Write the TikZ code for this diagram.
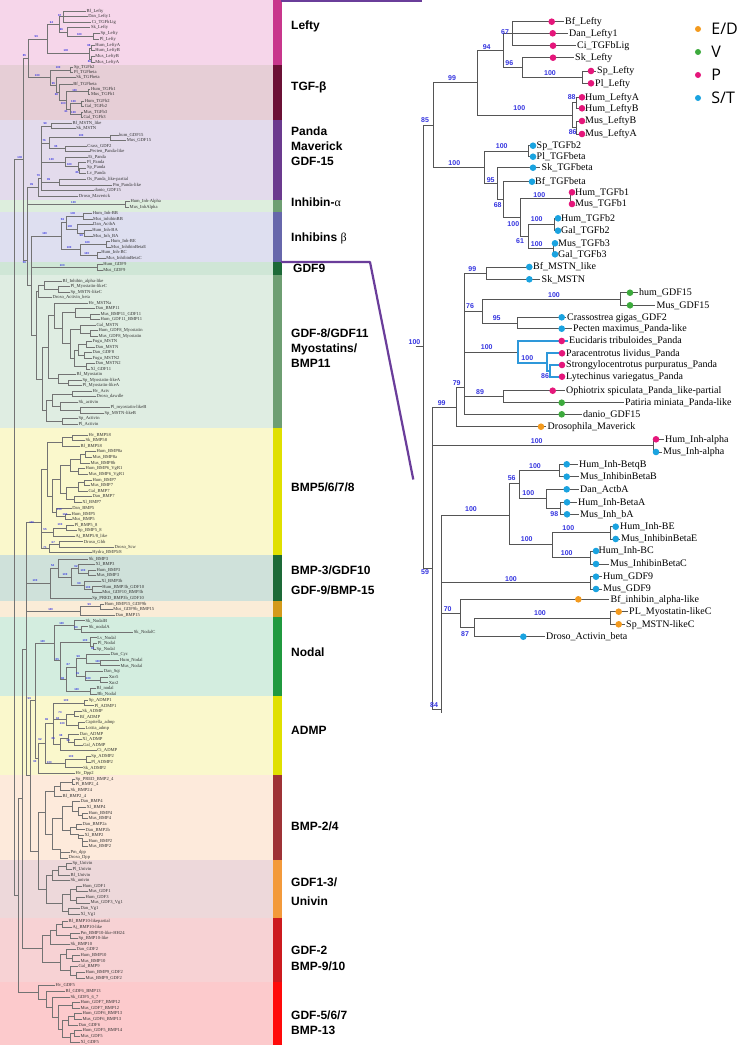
\documentclass[tikz,border=0pt]{standalone}
\usepackage{fontspec}
\setmainfont{Liberation Serif}
\setsansfont{Liberation Sans}
\newfontfamily\legendfont{Open Sans}
\usetikzlibrary{positioning}
\pgfdeclarelayer{front}
\pgfsetlayers{main,front}

\definecolor{cED}{HTML}{F39A1E}
\definecolor{cV}{HTML}{3DAA3D}
\definecolor{cP}{HTML}{E5177B}
\definecolor{cST}{HTML}{1AA3E0}
\definecolor{boot}{HTML}{3535E0}
\definecolor{branch}{HTML}{555555}
\definecolor{panda}{HTML}{2E98DA}
\definecolor{frame}{HTML}{6A3D9A}
% group bands
\definecolor{bgLefty}{HTML}{F6D6EA}\definecolor{stLefty}{HTML}{C8368C}
\definecolor{bgTgf}{HTML}{E6CED6}\definecolor{stTgf}{HTML}{6B1035}
\definecolor{bgPanda}{HTML}{E3DBEC}\definecolor{stPanda}{HTML}{6B3A8E}
\definecolor{bgInhA}{HTML}{DDEEDD}\definecolor{stInhA}{HTML}{6E9E72}
\definecolor{bgInhB}{HTML}{DEDFF0}\definecolor{stInhB}{HTML}{6767AB}
\definecolor{bgGnine}{HTML}{CFE6D6}\definecolor{stGnine}{HTML}{1D6A38}
\definecolor{bgMyo}{HTML}{DFEDE2}\definecolor{stMyo}{HTML}{6E9E72}
\definecolor{bgBmpA}{HTML}{FAF8CC}\definecolor{stBmpA}{HTML}{E0E000}
\definecolor{bgBmpB}{HTML}{CFE1DA}\definecolor{stBmpB}{HTML}{1D6A38}
\definecolor{bgGnineB}{HTML}{FAECD7}\definecolor{stGnineB}{HTML}{D39A1B}
\definecolor{bgNodal}{HTML}{D3EDDF}\definecolor{stNodal}{HTML}{20993F}
\definecolor{bgAdmp}{HTML}{FAF8CC}\definecolor{stAdmp}{HTML}{E0E000}
\definecolor{bgBmpC}{HTML}{FDEADB}\definecolor{stBmpC}{HTML}{9E3236}
\definecolor{bgUniv}{HTML}{EDD8DA}\definecolor{stUniv}{HTML}{F39A3B}
\definecolor{bgGdfB}{HTML}{F7D2D4}\definecolor{stGdfB}{HTML}{CC1A1F}
\definecolor{bgGdfC}{HTML}{FCCACC}\definecolor{stGdfC}{HTML}{FF0A0A}

\begin{document}
\begin{tikzpicture}[x=1pt,y=-1pt]
\tikzset{
  grp/.style={anchor=west,inner sep=0pt,align=left,font=\sffamily\bfseries\fontsize{12}{15}\selectfont},
  rleaf/.style={anchor=west,inner sep=1.5pt,text height=6.8pt,text depth=1.2pt,font=\fontsize{10}{10}\selectfont},
  lleaf/.style={anchor=west,inner sep=0.4pt,text=black!80,font=\fontsize{4.6}{4.6}\selectfont},
  rbranch/.style={draw=branch,line width=0.9pt},
  lbranch/.style={draw=black!55,line width=0.45pt},
  pandabranch/.style={draw=panda,line width=2pt},
  rboot/.style={inner sep=0pt,text=boot,font=\sffamily\bfseries\fontsize{7}{7}\selectfont},
  lboot/.style={inner sep=0pt,text=boot,font=\sffamily\bfseries\fontsize{2.8}{2.8}\selectfont},
  leafdot/.style={circle,inner sep=0pt,minimum size=6.6pt},
  keydot/.style={circle,inner sep=0pt,minimum size=6pt},
  keytext/.style={inner sep=0pt,font=\legendfont\fontsize{16}{16}\selectfont},
  zoomline/.style={draw=frame,line width=2.2pt},
}
\useasboundingbox (0,0) rectangle (740,1049);
\fill[white] (0,0) rectangle (740,1049);

% coloured bands of the overview tree
\foreach \ya/\yb/\bg/\st in {0/65/bgLefty/stLefty, 65/120/bgTgf/stTgf,
  120/200/bgPanda/stPanda, 200/212/bgInhA/stInhA, 212/262/bgInhB/stInhB,
  262/275/bgGnine/stGnine, 275/428/bgMyo/stMyo, 428/555/bgBmpA/stBmpA,
  555/601/bgBmpB/stBmpB, 601/617/bgGnineB/stGnineB, 617/696/bgNodal/stNodal,
  696/775/bgAdmp/stAdmp, 775/860/bgBmpC/stBmpC, 860/918/bgUniv/stUniv,
  918/982/bgGdfB/stGdfB, 982/1045/bgGdfC/stGdfC}
{
  \fill[\bg] (0,\ya) rectangle (273,\yb);
  \fill[\st] (273,\ya) rectangle (281.5,\yb);
}

% group names
\node[grp] (gLefty) at (291,26) {Lefty};
\node[grp] (gTgf) at (291,87.3) {TGF-β};
\node[grp] (gPanda) at (291,146.7) {Panda\\Maverick\\GDF-15};
\node[grp] (gInhA) at (291,202.7) {Inhibin-{\rmfamily\mdseries α}};
\node[grp] (gInhB) at (291,238.3) {Inhibins {\rmfamily\mdseries β}};
\node[grp] (gGnine) at (293,268.3) {GDF9};
\node[grp] (gMyo) at (291,348) {GDF-8/GDF11\\Myostatins/\\BMP11};
\node[grp] (gBmpA) at (291,487.3) {BMP5/6/7/8};
\node[grp] (gBmpB) at (291,570.7) {BMP-3/GDF10};
\node[grp] (gGnineB) at (291,590.7) {GDF-9/BMP-15};
\node[grp] (gNodal) at (291,652.7) {Nodal};
\node[grp] (gAdmp) at (291,730) {ADMP};
\node[grp] (gBmpC) at (291,826) {BMP-2/4};
\node[grp,font=\sffamily\bfseries\fontsize{12}{19}\selectfont] (gUniv) at (291,891.7) {GDF1-3/\\Univin};
\node[grp,font=\sffamily\bfseries\fontsize{12}{16.5}\selectfont] (gGdfB) at (291,958.3) {GDF-2\\BMP-9/10};
\node[grp] (gGdfC) at (291,1022.5) {GDF-5/6/7\\BMP-13};

% zoom frame
\coordinate (zA) at (281,1.2);
\coordinate (zB) at (422,1.2);
\coordinate (zC) at (281,262);
\coordinate (zD) at (370,262);
\coordinate (zE) at (413.3,479.5);
\draw[zoomline] (zA) -- (zB);
\draw[zoomline,line join=round] (zC) -- (zD) -- (zE);

% tree data
\def\innerlist{A85/433.3/125, L99/477/82.7, L94/503.3/50.5, L67/512.7/33.3,
  L96/522.7/67.2, LSP/582.3/77.2, LHM/572.7/115, L88/576.5/102.8, L86/576.5/127.5,
  T100/484/167.3, TSP/528.3/151.2, T95/497.5/183.5, T68/503.3/199.3,
  T100b/520.7/217, TB1/570/198.2, T61/528.3/236, TB2/554.3/224.5, TB3/553.3/248.8,
  R0/423.3/346.7, N59/432.3/568.3, P99/456.7/407.5, P79/464/387.7, M99/486.7/273.1,
  P76/482.3/311, G15/620/299, P95/517.7/323, PP/517.7/352.5, PP2/546.7/362.7,
  PP3/550/370.8, P89/503.3/396.7, IA/653.3/445.7, IB/509.3/515, I56/519.3/483.7,
  IBB/559.3/470.5, I100c/546/498.8, I98/560.7/508.3, I100d/552.7/544,
  IBE/610/532.8, IBC/590.7/557.5, G9/590.7/582.8}
\def\leaflist{BfLefty/21.7/551.7/565/cP/Bf\_Lefty/Bf\_Lefty,
  DanLefty/33.3/552.7/569/cP/Dan\_Lefty1/Dan\_Lefty1,
  CiLig/45.7/553/577/cP/Ci\_TGFbLig/Ci\_TGFbLig,
  SkLefty/57.7/553/575/cP/Sk\_Lefty/Sk\_Lefty,
  SpLefty/71/591/597/cP/Sp\_Lefty/Sp\_Lefty,
  PlLefty/83.3/591/595/cP/Pl\_Lefty/Pl\_Lefty,
  HumLA/97.3/582/585/cP/Hum\_LeftyA/Hum\_LeftyA,
  HumLB/108.3/582/585/cP/Hum\_LeftyB/Hum\_LeftyB,
  MusLB/121/582/585/cP/Mus\_LeftyB/Mus\_LeftyB,
  MusLA/134/582/585/cP/Mus\_LeftyA/Mus\_LeftyA,
  SpTb/145.7/533/536.5/cST/Sp\_TGFb2/Sp\_TGFb2,
  PlTb/156.7/533/536.5/cST/Pl\_TGFbeta/Pl\_TGFbeta,
  SkTb/167.7/533/541.5/cST/Sk\_TGFbeta/Sk\_TGFbeta,
  BfTb/181.7/532/535/cST/Bf\_TGFbeta/Bf\_TGFbeta,
  HumTbA/192.3/572/575/cP/Hum\_TGFb1/Hum\_TGFb1,
  MusTbA/204/572/575/cP/Mus\_TGFb1/Mus\_TGFb1,
  HumTbB/218.3/558/561/cST/Hum\_TGFb2/Hum\_TGFb2,
  GalTbB/230.7/558/561/cST/Gal\_TGFb2/Gal\_TGFb2,
  MusTbC/243.3/555/558/cST/Mus\_TGFb3/Mus\_TGFb3,
  GalTbC/254.3/555/558/cST/Gal\_TGFb3/Gal\_TGFb3,
  BfMstn/267/529.3/533/cST/Bf\_MSTN\_like/Bf\_MSTN\_like,
  SkMstn/279.3/529.3/541.5/cST/Sk\_MSTN/Sk\_MSTN,
  HumGDFf/292.7/630/639/cV/hum\_GDF15/hum\_GDF15,
  MusGDFf/305.3/630/656.5/cV/Mus\_GDF15/Mus\_GDF15,
  Crass/317.3/561.7/567/cST/Crassostrea gigas\_GDF2/Crass\_GDF2,
  Pecten/328.7/561.7/573/cST/Pecten maximus\_Panda-like/Pecten\_Panda-like,
  Eucid/341/561.7/569/cP/Eucidaris tribuloides\_Panda/Et\_Panda,
  Paracen/353.3/562/566/cP/Paracentrotus lividus\_Panda/Pl\_Panda,
  Strongy/365/562/566/cP/Strongylocentrotus purpuratus\_Panda/Sp\_Panda,
  Lytech/376.7/562/566/cP/Lytechinus variegatus\_Panda/Lv\_Panda,
  Ophio/390.7/552.7/566/cP/Ophiotrix spiculata\_Panda\_like-partial/Os\_Panda\_like-partial,
  Patiria/402.7/561.7/625/cV/Patiria miniata\_Panda-like/Pm\_Panda-like,
  Danio/414.3/561.7/583/cV/danio\_GDF15/danio\_GDF15,
  DrosMav/426.7/541/547.5/cED/Drosophila\_Maverick/Droso\_Maverick,
  HumIA/439.3/656/665/cP/Hum\_Inh-alpha/Hum\_Inh-Alpha,
  MusIA/452/656/663/cST/Mus\_Inh-alpha/Mus\_InhAlpha,
  HumIBB/464.3/566.7/579/cST/Hum\_Inh-BetqB/Hum\_Inh-BB,
  MusIBB/476.7/566.7/580/cST/Mus\_InhibinBetaB/Mus\_inhibinBB,
  DanAct/489.3/566.7/580/cST/Dan\_ActbA/Dan\_ActbA,
  HumIBA/502.3/567/578/cST/Hum\_Inh-BetaA/Hum\_Inh-BA,
  MusIBA/514.3/567/580/cST/Mus\_Inh\_bA/Mus\_Inh\_BA,
  HumIBE/526.7/615.7/620/cST/Hum\_Inh-BE/Hum\_Inh-BE,
  MusIBE/539/615.7/621/cST/Mus\_InhibinBetaE/Mus\_InhibinBetaE,
  HumIBC/551/596/598.5/cST/Hum\_Inh-BC/Hum\_Inh-BC,
  MusIBC/564/596/610/cST/Mus\_InhibinBetaC/Mus\_InhibinBetaC,
  HumGnine/576.7/596/603/cST/Hum\_GDF9/Hum\_GDF9,
  MusGnine/589/596/603/cST/Mus\_GDF9/Mus\_GDF9}
\def\edgelist{R0/A85, R0/N59, A85/L99, A85/T100, L99/L94, L99/LHM, L94/L67,
  L94/L96, L67/BfLefty, L67/DanLefty, L67/CiLig, L96/SkLefty, L96/LSP,
  LSP/SpLefty, LSP/PlLefty, LHM/L88, LHM/L86, L88/HumLA, L88/HumLB, L86/MusLB,
  L86/MusLA, T100/TSP, T100/T95, TSP/SpTb, TSP/PlTb, T95/SkTb, T95/T68,
  T68/BfTb, T68/T100b, T100b/TB1, T100b/T61, TB1/HumTbA, TB1/MusTbA, T61/TB2,
  T61/TB3, TB2/HumTbB, TB2/GalTbB, TB3/MusTbC, TB3/GalTbC, N59/P99, N59/IA,
  P99/P79, P99/DrosMav, P79/M99, P79/P76, P79/PP, P79/P89, P79/Danio,
  M99/BfMstn, M99/SkMstn, P76/G15, P76/P95, G15/HumGDFf, G15/MusGDFf,
  P95/Crass, P95/Pecten, P89/Ophio, P89/Patiria, IA/HumIA, IA/MusIA, IB/I56,
  IB/I100d, I56/IBB, I56/I100c, IBB/HumIBB, IBB/MusIBB, I100c/DanAct,
  I100c/I98, I98/HumIBA, I98/MusIBA, I100d/IBE, I100d/IBC, IBE/HumIBE,
  IBE/MusIBE, IBC/HumIBC, IBC/MusIBC, G9/HumGnine, G9/MusGnine}
\def\pandaedges{PP/Eucid, PP/PP2, PP2/Paracen, PP2/PP3, PP3/Strongy, PP3/Lytech}
\def\bootlist{452/77.7/99, 486.7/47/94, 505/31.7/67, 509.3/62.7/96,
  550/72.7/100, 519.3/108.3/100, 571.7/97.3/88, 572.7/132.3/86, 425/120/85,
  454.3/162.7/100, 501.7/145.7/100, 490.7/180/95, 497.7/205/68, 539.3/195/100,
  513.3/224.3/100, 536.7/219.3/100, 520/241/61, 536.7/244/100, 414.5/341.7/100,
  472.3/269/99, 470/305.7/76, 554/295/100, 496.7/317.7/95, 486.7/347.3/100,
  527.3/357.7/100, 545/376/86, 456.7/382.7/79, 480/391.7/89, 441.7/402.7/99,
  536.7/440.7/100, 535/465.7/100, 511.7/478.3/56, 528.3/493.3/100,
  554.3/514.3/98, 471/509.3/100, 568.3/528.3/100, 526.7/539.3/100,
  566.7/553.3/100, 425/571.7/59, 511/579.3/100}

% detailed tree (right)
\foreach \n/\x/\y in \innerlist {\coordinate (R\n) at (\x,\y);}
\foreach \n/\y/\d/\l/\c/\rt/\lt in \leaflist {
  \node[rleaf] (R\n) at (\l-1.5,\y) {\rt};
  \begin{pgfonlayer}{front}
    \node[leafdot,fill=\c] (D\n) at (\d,\y) {};
  \end{pgfonlayer}
}
\foreach \p/\c in \edgelist {\draw[rbranch] (R\p) |- (R\c);}
\foreach \p/\c in \pandaedges {\draw[pandabranch] (R\p) |- (R\c);}
\foreach \x/\y/\t [count=\i] in \bootlist {\node[rboot] (rb\i) at (\x,\y) {\t};}

% lower part, only in the detailed tree
\coordinate (RR0s) at (415.7,346.7);
\coordinate (RB84) at (441.7,709.3);
\coordinate (RB84s) at (441.7,713.3);
\coordinate (RN70) at (460,613.8);
\coordinate (RN87) at (474,627.8);
\coordinate (RMLC) at (610,618);
\foreach \n/\y/\d/\l/\c/\rt in {BfInhA/599.3/578.3/610.5/cED/Bf\_inhibin\_alpha-like,
  PlMyo/611.7/618.7/629/cED/PL\_Myostatin-likeC,
  SpMstnC/624.3/618.7/626/cED/Sp\_MSTN-likeC,
  DrosAct/636.7/523.3/546/cST/Droso\_Activin\_beta} {
  \node[rleaf] (R\n) at (\l-1.5,\y) {\rt};
  \begin{pgfonlayer}{front}
    \node[leafdot,fill=\c] (D\n) at (\d,\y) {};
  \end{pgfonlayer}
}
\draw[rbranch] (RR0s) -- (RR0);
\draw[rbranch] (RB84) -- (RB84s);
\foreach \p/\c in {N59/B84, B84/IB, B84/G9, B84/N70, N70/BfInhA, N70/N87,
  N87/MLC, N87/DrosAct, MLC/PlMyo, MLC/SpMstnC} {\draw[rbranch] (R\p) |- (R\c);}
\foreach \x/\y/\t [count=\i from 41] in {447.7/609.3/70, 540/613.3/100,
  465/634.3/87, 434/705/84} {\node[rboot] (rb\i) at (\x,\y) {\t};}

% overview tree (left), top clades as in the detailed tree
\begin{scope}[shift={(-162.6,1.09)},xscale=0.44,yscale=0.4566]
\foreach \n/\x/\y in \innerlist {\coordinate (L\n) at (\x,\y);}
\foreach \n/\y/\d/\l/\c/\rt/\lt in \leaflist {\node[lleaf] (L\n) at (\l,\y) {\lt};}
\foreach \x/\y/\t [count=\i] in \bootlist {\node[lboot] (lb\i) at (\x,\y) {\t};}
\end{scope}
\foreach \p/\c in \edgelist {\draw[lbranch] (L\p) |- (L\c);}
\foreach \p/\c in \pandaedges {\draw[lbranch] (L\p) |- (L\c);}

% overview tree, lower clades
\foreach \n/\x/\y/\t in {m1/62/281/Bf\_Inhibin\_alpha-like, m2/70/286.5/Pl\_Myostatin-likeC,
  m3/70/292/Sp\_MSTN-likeC, m4/52/297.5/Droso\_Activin\_beta, m5/88/303/Hv\_MSTNa,
  m6/95/308.5/Dan\_BMP11, m7/100/314/Mus\_BMP11\_GDF11, m8/100/319.5/Hum\_GDF11\_BMP11,
  m9/96/325/Gal\_MSTN, m10/98/330.5/Hum\_GDF8\_Myostatin, m11/98/336/Mus\_GDF8\_Myostatin,
  m12/92/341.5/Fugu\_MSTN, m13/95/347/Dan\_MSTN, m14/92/352.5/Dan\_GDF8,
  m15/92/358/Fugu\_MSTN2, m16/95/363.5/Dan\_MSTN2, m17/90/369/Xl\_GDF11,
  m18/76/374.5/Bf\_Myostatin, m19/82/380/Sp\_Myostatin-likeA, m20/82/385.5/Pl\_Myostatin-likeA,
  m21/92/391/Hv\_Actv, m22/96/396.5/Droso\_dawdle, m23/78/402/Sk\_activin,
  m24/110/407.5/Pl\_myostatin-likeB, m25/104/413/Sp\_MSTN-likeB, m26/78/418.5/Sp\_Activin,
  m27/78/424/Pl\_Activin,
  b1/88/434.8/Hv\_BMP58, b2/85/440.4/Sk\_BMP58, b3/80/446.1/Bf\_BMP58,
  b4/96/451.7/Hum\_BMP8a, b5/92/457.3/Mus\_BMP8a, b6/90/463/Mus\_BMP8b,
  b7/85/468.6/Hum\_BMP6\_VgR1, b8/88/474.2/Mus\_BMP6\_VgR1, b9/92/479.8/Hum\_BMP7,
  b10/90/485.5/Mus\_BMP7, b11/88/491.1/Gal\_BMP7, b12/92/496.7/Dan\_BMP7,
  b13/81.7/502.3/Xl\_BMP7, b14/71.7/508.3/Dan\_BMP5, b15/71/514/Hum\_BMP5,
  b16/71.7/519.3/Mus\_BMP5, b17/74/525/Pl\_BMP5\_8, b18/77.3/530.7/Sp\_BMP5\_8,
  b19/75/536/{Aj\_BMP5/8\_like}, b20/83.3/541.7/Droso\_Gbb, b21/114/547.7/Droso\_Scw,
  b22/91.7/552.7/{Hydra\_BMP5/8},
  k1/88.3/559/Sk\_BMP3, k2/95/564.3/Xl\_BMP3, k3/96/570/Hum\_BMP3, k4/96/575.7/Mus\_BMP3,
  k5/100.7/581/Xl\_BMP3b, k6/101.7/586.7/Hum\_BMP3b\_GDF10, k7/101.7/592.3/Mus\_GDF10\_BMP3b,
  k8/91.7/598.3/Sp\_PRED\_BMP3b\_GDF10,
  q1/104/604/Hum\_BMP15\_GDF9b, q2/112.7/609.3/Mus\_GDF9b\_BMP15, q3/115/615/Dan\_BMP15,
  n1/85/620.7/Sk\_NodalB, n2/88.3/626.7/Sk\_nodalA, n3/133.3/632.3/Sk\_NodalC,
  n4/96.7/637.7/Lv\_Nodal, n5/97.3/643.3/Pl\_Nodal, n6/96/649/Sp\_Nodal,
  n7/110/654.3/Dan\_Cyc, n8/119.3/660/Hum\_Nodal, n9/120/665.7/Mus\_Nodal,
  n10/103.3/671.7/Dan\_Sqt, n11/108.3/677.3/Xnr5, n12/108.3/682.7/Xnr2,
  n13/96/688.3/Bf\_nodal, n14/96.7/694/Bb\_Nodal,
  a1/88.3/700/Sp\_ADMP1, a2/94/705.7/Pl\_ADMP1, a3/81.7/711/Sk\_ADMP, a4/79.3/716.7/Bf\_ADMP,
  a5/85/722.7/Capitella\_admp, a6/85/728.3/Lottia\_admp, a7/79.3/734/Dan\_ADMP,
  a8/81.7/739.3/Xl\_ADMP, a9/82.7/745/Gal\_ADMP, a10/96.7/750.7/Ci\_ADMP,
  a11/90.7/756.7/Sp\_ADMP2, a12/90.7/762.3/Pl\_ADMP2, a13/82.7/767.7/Sk\_ADMP2,
  a14/75/773.3/Hv\_Dpp2,
  c1/75/779/Sp\_PRED\_BMP2\_4, c2/75/784.6/Pl\_BMP2\_4, c3/70/790.3/Sk\_BMP24,
  c4/62/795.9/Bf\_BMP2\_4, c5/80/801.5/Dan\_BMP4, c6/86/807.2/Xl\_BMP4,
  c7/88/812.8/Hum\_BMP4, c8/88/818.4/Mus\_BMP4, c9/82/824/Dan\_BMP2a,
  c10/85/829.7/Dan\_BMP2b, c11/84/835.3/Xl\_BMP2, c12/88/840.9/Hum\_BMP2,
  c13/88/846.6/Mus\_BMP2, c14/70/852.2/Pm\_dpp, c15/68/857.8/Droso\_Dpp,
  u1/72/863.5/Sp\_Univin, u2/72/869.1/Pl\_Univin, u3/70/874.8/Bf\_Univin,
  u4/70/880.4/Sk\_univin, u5/82/886/Hum\_GDF1, u6/88/891.7/Mus\_GDF1,
  u7/85/897.3/Hum\_GDF3, u8/90/902.9/Mus\_GDF3\_Vg1, u9/80/908.5/Dan\_Vg1,
  u10/80/914.2/Xl\_Vg1,
  v1/68/921.5/Bf\_BMP10-likepartial, v2/72/927.1/Aj\_BMP10-like, v3/80/932.8/Pm\_BMP10-like-HH24,
  v4/78/938.4/Sp\_BMP10-like, v5/70/944/Sk\_BMP10, v6/76/949.7/Dan\_GDF2,
  v7/80/955.3/Hum\_BMP10, v8/80/960.9/Mus\_BMP10, v9/78/966.5/Gal\_BMP9,
  v10/85/972.2/Hum\_BMP9\_GDF2, v11/85/977.8/Mus\_BMP9\_GDF2,
  w1/55/985.5/Hv\_GDF5, w2/65/991.1/Bf\_GDF6\_BMP13, w3/70/996.8/Sk\_GDF5\_6\_7,
  w4/80/1002.4/Hum\_GDF7\_BMP12, w5/80/1008/Mus\_GDF7\_BMP12, w6/82/1013.7/Hum\_GDF6\_BMP13,
  w7/82/1019.3/Mus\_GDF6\_BMP13, w8/78/1024.9/Dan\_GDF6, w9/82/1030.5/Hum\_GDF5\_BMP14,
  w10/80/1036.2/Mus\_GDF5, w11/80/1041.8/Xl\_GDF5}
  {\node[lleaf] (\n) at (\x,\y) {\t};}
\foreach \n/\x/\y in {mB/58/289.25, mA/44/285.1, mC/38/291.3, mO2/90/316.75,
  mO/75/312.6, mP2/90/333.25, mP1/80/329.1, mP4/86/344.25, mP5/84/355.25,
  mP3/78/349.75, mP8/86/366.25, mP7/74/358, mP/70/343.55, mN/62/328.1,
  mM/54/315.55, mQ2/68/382.75, mQ/58/378.6, mM2/48/347.1, mR1/72/393.75,
  mR3/80/410.25, mR2/60/406.1, mR/52/399.9, mT/62/421.25, mS/46/410.6,
  mU/42/378.85, mV/36/335.1,
  bS1/72/437.6, bS2/62/441.85, bS3/85/454.5, bS4/80/458.75, bS5/78/471.4,
  bS6/70/465.1, bS7/84/482.65, bS8/78/486.9, bS9/74/499.5, bS10/66/493.2,
  bS11/60/479.15, bI/65/516.65, bJ/56/512.5, bS12/52/495.8, bS13/47/468.8,
  bF/66/527.85, bG/53.3/531.9, bD/59.3/544.7, bE/49/548.7, bR/41.7/522,
  kA/88/572.85, kB/78/568.6, kC/92/589.5, kD/84.3/585.25, kE/71.7/576.9,
  kF/58.3/568, kG/50/583.1, qA/100/606.65, qB/80/610.8,
  nB/81.7/629.5, nA/74/625.1, nD/93.3/646.15, nC/90/641.9, nF/100/662.85,
  nE/86/658.6, nH/100/680, nG/85/675.85, nI/76/667.2, nJ/90/691.15,
  nK/66.7/679.2, nL/60/660.55, nM/54.3/642.8,
  aA/84/702.85, aB/74/713.85, aC/78/725.5, aD/66/719.7, aE/74/742.15,
  aF/68/738.1, aG/60/744.4, aH/53.3/723.6, aI/86/759.5, aJ/65/763.6,
  aK/45/743.6, aL/38/758.5,
  cA0/72/781.8, cS2/60/786.05, cS3/54/790.95, cA1/82/815.6, cA2/78/811.4,
  cA3/72/806.45, cB4/76/826.85, cB1/82/838.1, cB2/78/834, cB3/70/830.4,
  cC/62/818.4, cE/60/849.4, cD/52/833.9, cF/45/812.4,
  uA/66/866.3, uB/58/870.55, uC/52/875.5, uD/76/888.85, uE/76/900.1,
  uF/70/894.5, uG/68/911.35, uH/62/902.9, uI/46/889.2,
  vA/62/924.3, vB/70/935.6, vC/56/929.95, vD/50/934.95, vE/72/958.1,
  vF/66/953.9, vG/76/975, vH/70/970.1, vI/60/962, vJ/42/948.5,
  wA/72/1005.2, wB/74/1016.5, wC/68/1020.7, wD/74/1033.35, wE/70/1037.6,
  wF/62/1029.15, wG/58/1017.2, wH/52/1007, wI/46/999, wJ/38/992.3,
  LB84/31.7/285.65, BB5/35/700.6, BB7/38/850.8, BB6/30/775.7, BB2/26/648.9,
  BB8/22/798.7, BB3/18.3/895.5, LRoot/14.5/526}
  {\coordinate (\n) at (\x,\y);}
\foreach \p/\c in {mB/m2, mB/m3, mA/m1, mA/mB, mC/mA, mC/m4, mO2/m7, mO2/m8,
  mO/m6, mO/mO2, mP2/m10, mP2/m11, mP1/m9, mP1/mP2, mP4/m12, mP4/m13,
  mP5/m14, mP5/m15, mP3/mP4, mP3/mP5, mP8/m16, mP8/m17, mP7/mP3, mP7/mP8,
  mP/mP1, mP/mP7, mN/mO, mN/mP, mM/m5, mM/mN, mQ2/m19, mQ2/m20, mQ/m18,
  mQ/mQ2, mM2/mM, mM2/mQ, mR1/m21, mR1/m22, mR3/m24, mR3/m25, mR2/m23,
  mR2/mR3, mR/mR1, mR/mR2, mT/m26, mT/m27, mS/mR, mS/mT, mU/mM2, mU/mS,
  mV/mC, mV/mU,
  bS1/b1, bS1/b2, bS2/bS1, bS2/b3, bS3/b4, bS3/b5, bS4/bS3, bS4/b6, bS5/b7,
  bS5/b8, bS6/bS4, bS6/bS5, bS7/b9, bS7/b10, bS8/bS7, bS8/b11, bS9/b12,
  bS9/b13, bS10/bS8, bS10/bS9, bS11/bS6, bS11/bS10, bI/b15, bI/b16, bJ/b14,
  bJ/bI, bS12/bS11, bS12/bJ, bS13/bS2, bS13/bS12, bF/b17, bF/b18, bG/bF,
  bG/b19, bD/b20, bD/b21, bE/bD, bE/b22, bR/bS13, bR/bG, bR/bE,
  kA/k3, kA/k4, kB/k2, kB/kA, kC/k6, kC/k7, kD/k5, kD/kC, kE/kB, kE/kD,
  kF/k1, kF/kE, kG/kF, kG/k8, qA/q1, qA/q2, qB/qA, qB/q3,
  nB/n2, nB/n3, nA/n1, nA/nB, nD/n5, nD/n6, nC/n4, nC/nD, nF/n8, nF/n9,
  nE/n7, nE/nF, nH/n11, nH/n12, nG/n10, nG/nH, nI/nE, nI/nG, nJ/n13,
  nJ/n14, nK/nI, nK/nJ, nL/nC, nL/nK, nM/nA, nM/nL,
  aA/a1, aA/a2, aB/a3, aB/a4, aC/a5, aC/a6, aD/aB, aD/aC, aE/a8, aE/a9,
  aF/a7, aF/aE, aG/aF, aG/a10, aH/aA, aH/aD, aH/aG, aI/a11, aI/a12, aJ/aI,
  aJ/a13, aK/aH, aK/aJ, aL/aK, aL/a14,
  cA0/c1, cA0/c2, cS2/cA0, cS2/c3, cS3/cS2, cS3/c4, cA1/c7, cA1/c8, cA2/c6,
  cA2/cA1, cA3/c5, cA3/cA2, cB4/c9, cB4/c10, cB1/c12, cB1/c13, cB2/c11,
  cB2/cB1, cB3/cB4, cB3/cB2, cC/cA3, cC/cB3, cE/c14, cE/c15, cD/cC, cD/cE,
  cF/cS3, cF/cD,
  uA/u1, uA/u2, uB/uA, uB/u3, uC/uB, uC/u4, uD/u5, uD/u6, uE/u7, uE/u8,
  uF/uD, uF/uE, uG/u9, uG/u10, uH/uF, uH/uG, uI/uC, uI/uH,
  vA/v1, vA/v2, vB/v3, vB/v4, vC/vA, vC/vB, vD/vC, vD/v5, vE/v7, vE/v8,
  vF/v6, vF/vE, vG/v10, vG/v11, vH/v9, vH/vG, vI/vF, vI/vH, vJ/vD, vJ/vI,
  wA/w4, wA/w5, wB/w6, wB/w7, wC/wB, wC/w8, wD/w9, wD/w10, wE/wD, wE/w11,
  wF/wC, wF/wE, wG/wA, wG/wF, wH/w3, wH/wG, wI/w2, wI/wH, wJ/w1, wJ/wI,
  LN59/LB84, LB84/LIB, LB84/LG9, LB84/mV, BB5/nM, BB5/aL, BB7/cF, BB7/uI,
  BB6/BB5, BB6/BB7, BB2/bR, BB2/kG, BB2/qB, BB2/BB6, BB8/BB2, BB8/vJ,
  BB3/BB8, BB3/wJ, LRoot/LR0, LRoot/BB3}
  {\draw[lbranch] (\p) |- (\c);}
\foreach \x/\y/\t [count=\i from 100] in {31.7/522.7/100, 45/547.7/71,
  53.3/542.7/67, 45/530/55, 60/525/100, 59.3/510/100, 65/514.3/100,
  35/581/100, 52.7/566/54, 76/566.7/92, 83/571/100, 79/584/99, 88/588/100,
  65/575/100, 50.7/609.3/100, 89.3/605/99, 61.7/623.3/100, 76/627.7/83,
  42.7/641.7/100, 85/640.7/100, 92.7/648.3/83, 57.3/659.3/85, 62.7/678.3/88,
  68.3/665/87, 78.3/656.7/98, 77.7/674/91, 97.7/661.7/100, 88.3/678.3/100,
  76.7/689.3/100, 29.3/699/99, 66/701/100, 60/712.3/73, 57.7/718.3/84,
  62.3/724/100, 61/736/98, 68.3/740.7/90, 53.3/738.3/85, 46.7/719.3/86,
  40/740/92, 49.3/762.3/100, 71/756.7/100, 35/761.7/90}
  {\node[lboot] (lb\i) at (\x,\y) {\t};}

% key
\node[keydot,fill=cED] (kED) at (698,29) {};
\node[keydot,fill=cV] (kV) at (698,52) {};
\node[keydot,fill=cP] (kP) at (698,75) {};
\node[keydot,fill=cST] (kST) at (698,98) {};
\node[keytext,right=10pt of kED] (tED) {E/D};
\node[keytext,right=10pt of kV] (tV) {V};
\node[keytext,right=10pt of kP] (tP) {P};
\node[keytext,right=10pt of kST] (tST) {S/T};
\end{tikzpicture}
\end{document}
